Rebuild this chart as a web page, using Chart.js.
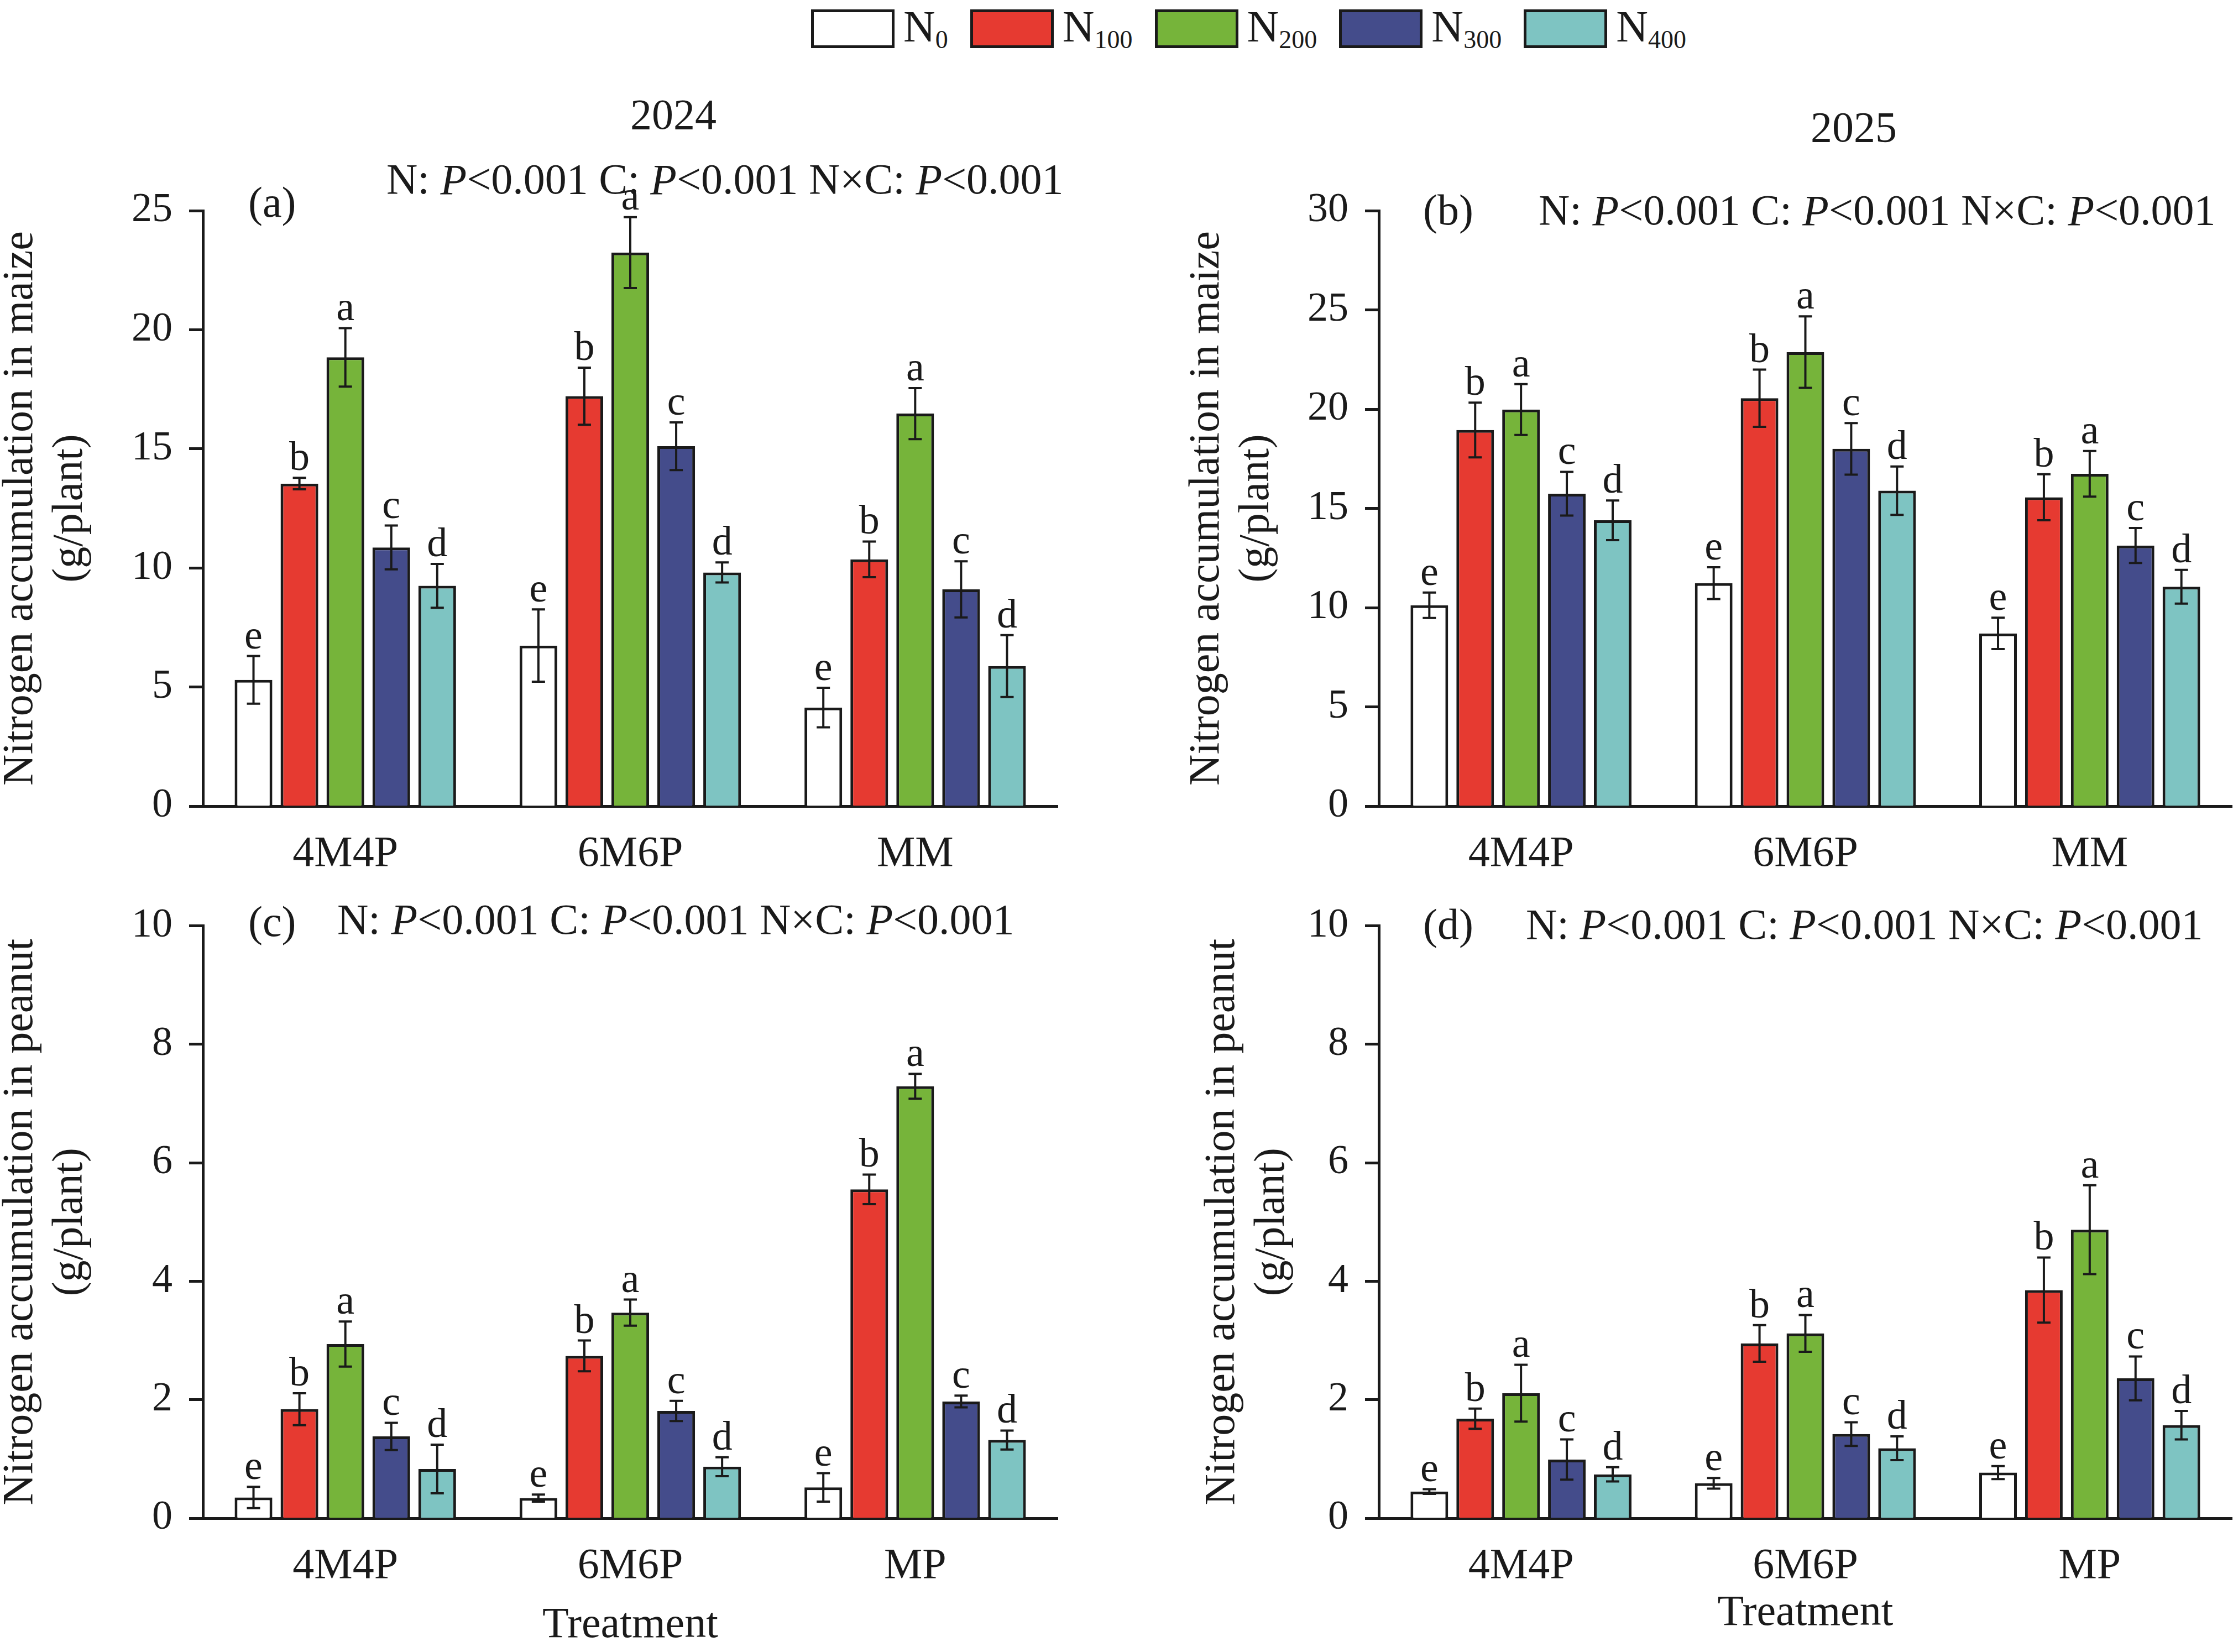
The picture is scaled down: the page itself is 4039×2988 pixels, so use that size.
<!DOCTYPE html>
<html>
<head>
<meta charset="utf-8">
<script src="https://cdn.jsdelivr.net/npm/chart.js@4.4.1/dist/chart.umd.min.js"></script>
<style>
  html, body { margin: 0; padding: 0; background: #fff; width: 4039px; height: 2988px; overflow: hidden; }
  body { position: relative; font-family: "Liberation Serif", serif; color: #1a1a1a; }
  .panel { position: absolute; }
  #legend { position: absolute; left: 1467px; top: 8px; display: flex; align-items: center; font-size: 80px; }
  #legend .item { display: flex; align-items: center; margin-right: 40px; }
  #legend .swatch { width: 151px; height: 70px; box-sizing: border-box; border: 5px solid #1a1a1a; }
  #legend .txt { margin-left: 16px; line-height: 1; }
  #legend sub { font-size: 46px; vertical-align: -12px; }
</style>
</head>
<body>
<div id="legend"></div>
<div class="panel" style="left:-7px;top:150px;width:2007px;height:1450px"><canvas id="chartA"></canvas></div>
<div class="panel" style="left:2139px;top:150px;width:1900px;height:1450px"><canvas id="chartB"></canvas></div>
<div class="panel" style="left:-7px;top:1600px;width:2007px;height:1388px"><canvas id="chartC"></canvas></div>
<div class="panel" style="left:2167px;top:1600px;width:1872px;height:1388px"><canvas id="chartD"></canvas></div>
<script>
// categories
const maizeCategories = ['4M4P', '6M6P', 'MM'];
const peanutCategories = ['4M4P', '6M6P', 'MP'];
const seriesNames = ['N0', 'N100', 'N200', 'N300', 'N400'];
// same significance letters for every treatment group
const sigLetters = ['e', 'b', 'a', 'c', 'd'];

// (a) maize 2024, one row per N level, one value per treatment
const maize2024 = [
  [5.30, 6.74, 4.14],
  [13.54, 17.21, 10.36],
  [18.84, 23.24, 16.48],
  [10.86, 15.11, 9.10],
  [9.25, 9.81, 5.88]
];
const maize2024Err = [
  [1.00, 1.52, 0.83],
  [0.24, 1.20, 0.75],
  [1.23, 1.49, 1.07],
  [0.92, 1.00, 1.18],
  [0.92, 0.42, 1.30]
];

// (b) maize 2025
const maize2025 = [
  [10.12, 11.23, 8.70],
  [18.95, 20.55, 15.56],
  [19.98, 22.87, 16.74],
  [15.74, 18.00, 13.13],
  [14.40, 15.89, 11.05]
];
const maize2025Err = [
  [0.64, 0.80, 0.79],
  [1.38, 1.44, 1.16],
  [1.28, 1.80, 1.15],
  [1.10, 1.30, 0.88],
  [1.00, 1.22, 0.85]
];

// (c) peanut 2024
const peanut2024 = [
  [0.35, 0.34, 0.52],
  [1.84, 2.74, 5.55],
  [2.94, 3.47, 7.29],
  [1.38, 1.81, 1.97],
  [0.83, 0.87, 1.32]
];
const peanut2024Err = [
  [0.18, 0.06, 0.24],
  [0.27, 0.26, 0.25],
  [0.38, 0.22, 0.21],
  [0.23, 0.17, 0.10],
  [0.41, 0.16, 0.16]
];

// (d) peanut 2025
const peanut2025 = [
  [0.45, 0.59, 0.77],
  [1.68, 2.95, 3.85],
  [2.11, 3.12, 4.87],
  [0.99, 1.42, 2.36],
  [0.74, 1.18, 1.57]
];
const peanut2025Err = [
  [0.04, 0.09, 0.11],
  [0.17, 0.31, 0.55],
  [0.48, 0.31, 0.75],
  [0.34, 0.20, 0.37],
  [0.12, 0.20, 0.24]
];

// y axis: [min, max, step]
const maizeAxis2024 = [0, 25, 5];
const maizeAxis2025 = [0, 30, 5];
const peanutAxis = [0, 10, 2];

const statsText = 'N: P<0.001 C: P<0.001 N×C: P<0.001';

const barColors = ['#ffffff', '#e63a31', '#76b43a', '#444c8b', '#7ec4c2'];
const ink = '#1a1a1a';
const serif = '"Liberation Serif", "Times New Roman", serif';

const errorBarPlugin = {
  id: 'errorBars',
  afterDatasetsDraw(chart) {
    const { ctx } = chart;
    const y = chart.scales.y;
    ctx.save();
    chart.data.datasets.forEach((ds, i) => {
      chart.getDatasetMeta(i).data.forEach((bar, j) => {
        const v = ds.data[j], e = ds.errors[j];
        const top = y.getPixelForValue(v + e);
        const bot = y.getPixelForValue(v - e);
        ctx.strokeStyle = ink;
        ctx.lineWidth = 4;
        ctx.beginPath();
        ctx.moveTo(bar.x, top); ctx.lineTo(bar.x, bot);
        ctx.moveTo(bar.x - 12, top); ctx.lineTo(bar.x + 12, top);
        ctx.moveTo(bar.x - 12, bot); ctx.lineTo(bar.x + 12, bot);
        ctx.stroke();
        ctx.fillStyle = ink;
        ctx.font = '74px ' + serif;
        ctx.textAlign = 'center';
        ctx.textBaseline = 'alphabetic';
        ctx.fillText(ds.letter, bar.x, top - 14);
      });
    });
    ctx.restore();
  }
};

// year, panel tag and the ANOVA line (italic P)
const panelTextPlugin = {
  id: 'panelText',
  afterDraw(chart, args, opts) {
    const { ctx, chartArea } = chart;
    ctx.save();
    ctx.fillStyle = ink;
    ctx.textBaseline = 'middle';
    ctx.font = '78px ' + serif;
    if (opts.year) {
      ctx.textAlign = 'center';
      ctx.fillText(opts.year, chartArea.left + opts.yearAt[0], chartArea.top + opts.yearAt[1]);
    }
    ctx.textAlign = 'left';
    ctx.fillText(opts.tag, chartArea.left + opts.tagAt[0], chartArea.top + opts.tagAt[1]);
    let x = chartArea.left + opts.statsAt[0];
    const yy = chartArea.top + opts.statsAt[1];
    statsText.split(/(P)/).forEach(part => {
      if (!part) return;
      ctx.font = (part === 'P' ? 'italic ' : '') + '78px ' + serif;
      ctx.fillText(part, x, yy);
      x += ctx.measureText(part).width;
    });
    ctx.restore();
  }
};

function makePanel(id, cfg) {
  return new Chart(document.getElementById(id), {
    type: 'bar',
    data: {
      labels: cfg.labels,
      datasets: seriesNames.map((name, i) => ({
        label: name,
        data: cfg.values[i],
        errors: cfg.errors[i],
        letter: sigLetters[i],
        backgroundColor: barColors[i],
        borderColor: ink,
        borderWidth: 5,
        categoryPercentage: 0.806,
        barPercentage: 0.82
      }))
    },
    options: {
      responsive: true,
      maintainAspectRatio: false,
      animation: false,
      devicePixelRatio: 1,
      layout: { padding: { top: cfg.padTop, right: cfg.padRight, left: 0, bottom: 0 } },
      plugins: {
        legend: { display: false },
        tooltip: { enabled: false },
        panelText: cfg.text
      },
      scales: {
        x: {
          grid: { display: false },
          border: { display: true, color: ink, width: 5 },
          ticks: { color: ink, font: { family: serif, size: 78 }, padding: 33 },
          title: cfg.xTitle
            ? { display: true, text: 'Treatment', color: ink, font: { family: serif, size: 78, lineHeight: 1.15 }, padding: { top: 0, bottom: cfg.xTitlePad } }
            : { display: false },
          afterFit: s => { s.height = cfg.xAxisH; }
        },
        y: {
          min: cfg.axis[0],
          max: cfg.axis[1],
          ticks: { stepSize: cfg.axis[2], color: ink, font: { family: serif, size: 74 }, padding: 30 },
          grid: { display: true, drawOnChartArea: false, drawTicks: true, tickLength: 25, tickWidth: 5, tickColor: ink },
          border: { display: true, color: ink, width: 5 },
          title: {
            display: true,
            text: [cfg.yTitle, '(g/plant)'],
            color: ink,
            font: { family: serif, size: 78, lineHeight: 1.15 },
            padding: { top: 0, bottom: 0 }
          },
          afterFit: s => { s.width = cfg.yAxisW; }
        }
      }
    },
    plugins: [errorBarPlugin, panelTextPlugin]
  });
}

const chartA = makePanel('chartA', {
  labels: maizeCategories, values: maize2024, errors: maize2024Err, axis: maizeAxis2024,
  yTitle: 'Nitrogen accumulation in maize', padTop: 231, padRight: 87, yAxisW: 374, xAxisH: 142,
  text: { year: '2024', yearAt: [851, -168], tag: '(a)', tagAt: [82, -9], statsAt: [332, -51] }
});
makePanel('chartB', {
  labels: maizeCategories, values: maize2025, errors: maize2025Err, axis: maizeAxis2025,
  yTitle: 'Nitrogen accumulation in maize', padTop: 231, padRight: 2, yAxisW: 355, xAxisH: 142,
  text: { year: '2025', yearAt: [859, -145], tag: '(b)', tagAt: [80, 5], statsAt: [289, 5] }
});
makePanel('chartC', {
  labels: peanutCategories, values: peanut2024, errors: peanut2024Err, axis: peanutAxis,
  yTitle: 'Nitrogen accumulation in peanut', padTop: 67, padRight: 87, yAxisW: 374, xAxisH: 242,
  xTitle: true, xTitlePad: 3,
  text: { tag: '(c)', tagAt: [82, -2], statsAt: [243, -6] }
});
makePanel('chartD', {
  labels: peanutCategories, values: peanut2025, errors: peanut2025Err, axis: peanutAxis,
  yTitle: 'Nitrogen accumulation in peanut', padTop: 67, padRight: 2, yAxisW: 327, xAxisH: 242,
  xTitle: true, xTitlePad: 25,
  text: { tag: '(d)', tagAt: [80, 3], statsAt: [266, 3] }
});

// shared legend built from the chart's own legend items
const legendEl = document.getElementById('legend');
chartA.options.plugins.legend.labels.generateLabels(chartA).forEach(item => {
  const m = item.text.match(/^([A-Za-z]+)(\d*)$/);
  const div = document.createElement('div');
  div.className = 'item';
  div.innerHTML = '<div class="swatch" style="background:' + item.fillStyle + '"></div>' +
    '<span class="txt">' + m[1] + '<sub>' + m[2] + '</sub></span>';
  legendEl.appendChild(div);
});
</script>
</body>
</html>
